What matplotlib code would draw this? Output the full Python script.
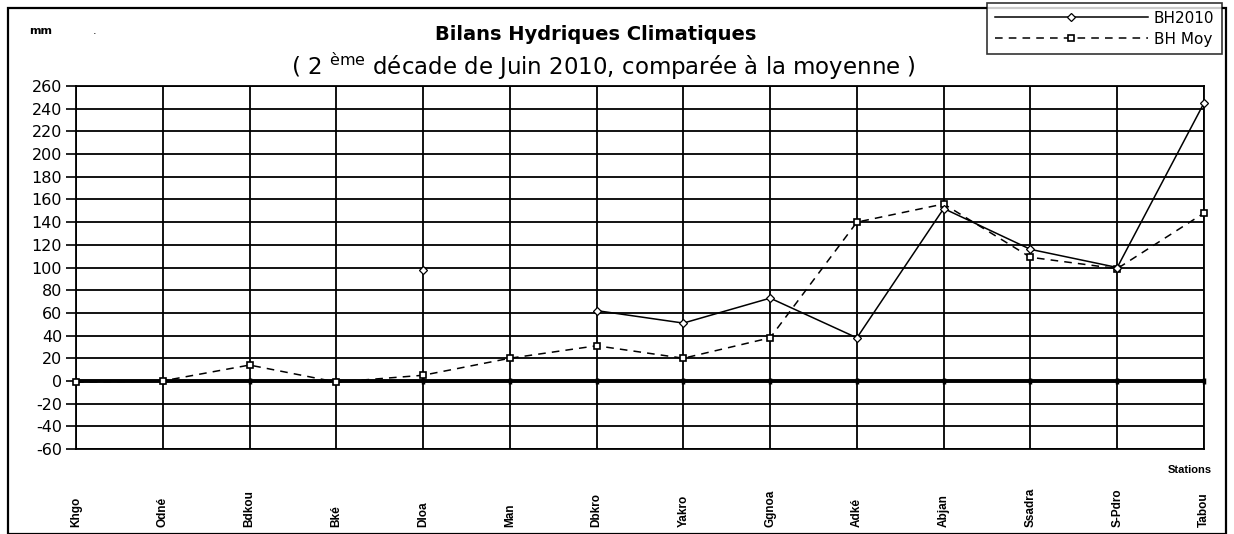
import numpy as np
import matplotlib
matplotlib.use("Agg")
import matplotlib.pyplot as plt
from matplotlib.patches import Rectangle
from matplotlib.transforms import blended_transform_factory

plt.rcParams['font.family'] = ['DejaVu Sans']

# stations (ordre de l'axe)
stations = ['Khgo', 'Odné', 'Bdkou', 'Bké', 'Dloa', 'Man', 'Dbkro', 'Yakro',
            'Ggnoa', 'Adké', 'Abjan', 'Ssadra', 'S-Pdro', 'Tabou']

# bilans hydriques (mm), nan = pas de donnée
bh2010 = [np.nan, np.nan, np.nan, np.nan, 98, np.nan, 62, 51,
          73, 38, 152, 116, 100, 245]
bh_moy = [-1, 0, 14, -1, 5, 20, 31, 20,
          38, 140, 156, 109, 99, 148]

y_ticks = list(range(-60, 261, 20))

W, H = 1234, 534
fig = plt.figure(figsize=(W / 100, H / 100), dpi=100)
fig.patch.set_facecolor('white')

# cadre extérieur
fig.patches.append(Rectangle((8 / W, 0), (1226 - 8) / W, 1 - 8 / H,
                             transform=fig.transFigure, fill=False,
                             edgecolor='black', linewidth=1.6))

left, right, top, bottom = 76, 1204, 86, 449
ax = fig.add_axes([left / W, 1 - bottom / H, (right - left) / W, (bottom - top) / H])

x = np.arange(len(stations))

ax.set_xlim(0, len(stations) - 1)
ax.set_ylim(-60, 260)
ax.set_yticks(y_ticks)
ax.set_yticklabels([str(v) for v in y_ticks], fontsize=11.5)
ax.tick_params(axis='y', direction='out', length=7, width=1.2, pad=3)
ax.set_xticks(x)
ax.set_xticklabels([])
ax.tick_params(axis='x', length=0)

ax.grid(True, color='black', linewidth=1.3)
ax.set_axisbelow(True)
for s in ax.spines.values():
    s.set_linewidth(1.3)

ax.axhline(0, color='black', linewidth=2.8, zorder=2)
ax.plot(x, np.zeros(len(x)), linestyle='none', marker='|', markersize=5,
        markeredgewidth=2.5, color='black', zorder=2, clip_on=False)

ax.plot(x, bh2010, color='black', linewidth=1.1, marker='D', markersize=4.5,
        markerfacecolor='white', markeredgecolor='black', markeredgewidth=0.9,
        label='BH2010', zorder=4, clip_on=False)
ax.plot(x, bh_moy, color='black', linewidth=1.1, linestyle=(0, (5, 4)),
        marker='s', markersize=4.5, markerfacecolor='white',
        markeredgecolor='black', markeredgewidth=1.2,
        label='BH Moy', zorder=3, clip_on=False)

# étiquettes des stations
tr = blended_transform_factory(ax.transData, fig.transFigure)
for xi, name in zip(x, stations):
    ax.text(xi, 1 - 527 / H, name, transform=tr, rotation=90, ha='center',
            va='bottom', fontsize=8.5, fontweight='bold',
            family='Liberation Sans')

fig.text(1212 / W, 1 - 470 / H, 'Stations', ha='right', va='center',
         fontsize=8, fontweight='bold', family='Liberation Sans')
fig.text(41 / W, 1 - 31 / H, 'mm', ha='center', va='center', fontsize=8,
         fontweight='bold')
fig.text(95 / W, 1 - 31 / H, '.', ha='center', va='center', fontsize=8)

fig.text(596 / W, 1 - 35 / H, 'Bilans Hydriques Climatiques', ha='center',
         va='center', fontsize=14, fontweight='bold')
fig.text(603 / W, 1 - 66 / H,
         r'( 2 $^{\mathregular{ème}}$ décade de Juin 2010, comparée à la moyenne )',
         ha='center', va='center', fontsize=16.5)

leg = fig.legend(loc='upper right', bbox_to_anchor=(1222 / W, 1 - 3 / H),
                 fontsize=11, frameon=True, fancybox=False, edgecolor='black',
                 handlelength=10, handletextpad=0.4, borderpad=0.5,
                 labelspacing=0.4, borderaxespad=0)
leg.get_frame().set_linewidth(1.2)

fig.savefig('out.png', dpi=100, facecolor='white')
